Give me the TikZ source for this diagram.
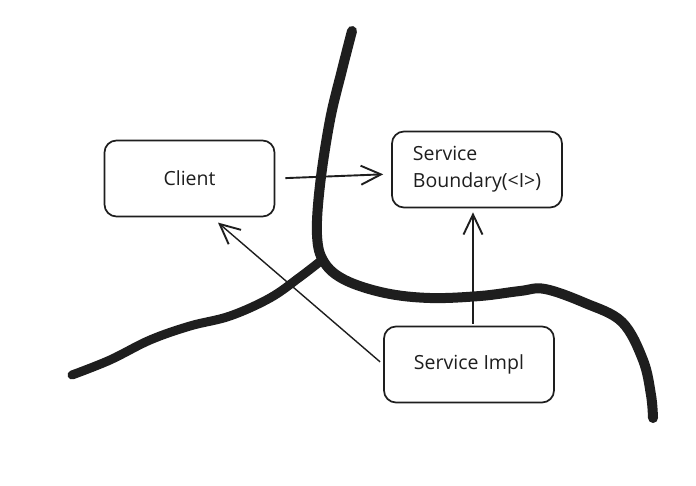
\documentclass[tikz,border=0pt]{standalone}
\usepackage{fontspec}
\setmainfont{Open Sans}
\usetikzlibrary{arrows.meta,positioning,calc}
\definecolor{inkblk}{HTML}{1E1E1E}

\begin{document}
\begin{tikzpicture}[x=1pt,y=-1pt,
    box/.style={draw=inkblk,line width=1.7pt,rounded corners=12pt,
                minimum width=170pt,minimum height=76pt,font=\fontsize{19.5}{27}\selectfont,text=inkblk},
    link/.style={draw=inkblk,line width=1.9pt,-{Straight Barb[length=20pt,width=19pt,line width=1.9pt]}},
    river/.style={draw=inkblk,line width=10pt,line cap=round,line join=round}]

  \useasboundingbox (0,0) rectangle (696,485);
  \fill[white] (0,0) rectangle (696,485);

  % =====================================================================
  % Thick boundary strokes
  % =====================================================================
  \draw[river] plot[smooth,tension=0.6] coordinates {
      (352,31) (342,70) (330,120) (320,185) (317,235) (324,262) (345,280)
      (385,293) (430,298) (480,296) (520,291) (545,289) (585,303) (622,322)
      (643,360) (651,395) (653,418)};
  \draw[river,line width=9pt] plot[smooth,tension=0.6] coordinates {
      (322,260) (300,277) (270,298) (230,316) (190,326) (150,340)
      (110,360) (72,375)};

  % =====================================================================
  % Boxes
  % =====================================================================
  \node[box] (client) at (189.5,178.5) {Client};
  \node[box,align=left] (bound) at (477,169.5) {Service\\Boundary(<I>)};
  \node[box] (impl) at (469,364.5) {Service Impl};

  % =====================================================================
  % Connectors
  % =====================================================================
  \draw[link,shorten <=10pt,shorten >=8pt] (client.east) -- ([yshift=-4.5pt]bound.west);
  \draw[link,shorten <=2pt,shorten >=4pt] ([xshift=4pt]impl.north) -- ([xshift=-4pt]bound.south);
  \draw[link,line width=1.4pt,shorten <=4pt,shorten >=8pt] (impl.west) -- (client.-60);

\end{tikzpicture}
\end{document}
